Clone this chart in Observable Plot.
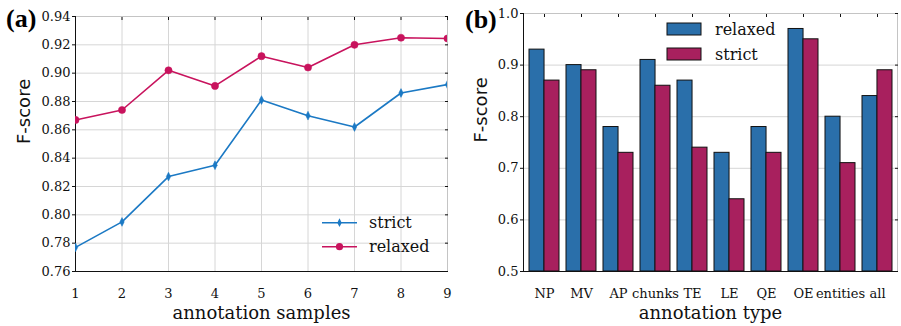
<!DOCTYPE html>
<html><head><meta charset="utf-8">
<script src="https://cdn.jsdelivr.net/npm/d3@7"></script>
<script src="https://cdn.jsdelivr.net/npm/@observablehq/plot@0.6"></script>
<style>
body{margin:0;background:#fff;}
#wrap{position:relative;width:901px;height:326px;overflow:hidden;}
#a,#b{position:absolute;top:0;}
#a{left:0px;} #b{left:460px;}
.panel{position:absolute;font-family:"Liberation Serif",serif;font-weight:bold;font-size:26px;line-height:1;color:#000;}
svg text{font-family:"DejaVu Serif",serif;}
svg text.sans{font-family:"DejaVu Sans",sans-serif;}
</style></head><body>
<div id="wrap"><div id="a"></div><div id="b"></div>
<div class="panel" style="left:6px;top:6px;">(a)</div>
<div class="panel" style="left:465px;top:7px;">(b)</div>
</div>
<script>
// ---- data ----
const samples = [1, 2, 3, 4, 5, 6, 7, 8, 9];
const strictScores = [0.777, 0.795, 0.827, 0.835, 0.881, 0.870, 0.862, 0.886, 0.892];
const relaxedScores = [0.867, 0.874, 0.902, 0.891, 0.912, 0.904, 0.920, 0.925, 0.9245];
const yTicksA = [0.76, 0.78, 0.80, 0.82, 0.84, 0.86, 0.88, 0.90, 0.92, 0.94];

const types = ["NP", "MV", "AP", "chunks", "TE", "LE", "QE", "OE", "entities", "all"];
const relaxedByType = [0.93, 0.90, 0.78, 0.91, 0.87, 0.73, 0.78, 0.97, 0.80, 0.84];
const strictByType = [0.87, 0.89, 0.73, 0.86, 0.74, 0.64, 0.73, 0.95, 0.71, 0.89];
const yTicksB = [0.5, 0.6, 0.7, 0.8, 0.9, 1.0];

// ---- style ----
const C_LINE_STRICT = "#1b79c4", C_LINE_RELAXED = "#c8135d";
const C_BAR_RELAXED = "#2a6faa", C_BAR_STRICT = "#a8205e";
const GRID = "#d6d6d6", FRAME = "#c4c4c4", INK = "#111";
const SERIF = "DejaVu Serif", SANS = "DejaVu Sans";

const thinDiamond = {
  draw(ctx, size) {
    const h = Math.sqrt(size / Math.PI) * 1.1, w = h * 0.5;
    ctx.moveTo(0, -h); ctx.lineTo(w, 0); ctx.lineTo(0, h); ctx.lineTo(-w, 0); ctx.closePath();
  }
};

const strictRows = samples.map((s, i) => ({s, v: strictScores[i]}));
const relaxedRows = samples.map((s, i) => ({s, v: relaxedScores[i]}));

const baseStyle = {fontFamily: SERIF, fontSize: "13px", color: INK, background: "transparent", overflow: "visible"};

const plotA = Plot.plot({
  width: 460, height: 326,
  marginLeft: 75, marginRight: 13, marginTop: 16, marginBottom: 55,
  style: baseStyle,
  x: {domain: [1, 9]},
  y: {domain: [0.76, 0.94]},
  marks: [
    Plot.gridX(samples, {stroke: GRID, strokeOpacity: 1}),
    Plot.gridY(yTicksA, {stroke: GRID, strokeOpacity: 1}),
    Plot.frame({stroke: FRAME}),
    Plot.axisX(samples, {tickSize: 0, tickPadding: 17, label: null, fontSize: 13, fontVariant: "normal"}),
    Plot.axisY(yTicksA, {tickSize: 3, tickPadding: 2, tickFormat: ".2f", label: null, fontSize: 13, fontVariant: "normal"}),
    Plot.axisX(samples, {anchor: "top", tickSize: -3, fill: "none", label: null}),
    Plot.axisY(yTicksA, {anchor: "right", tickSize: -3, fill: "none", label: null}),
    Plot.ruleX([samples[0]], {stroke: INK}),
    Plot.ruleY([yTicksA[0]], {stroke: INK}),
    Plot.line(strictRows, {x: "s", y: "v", stroke: C_LINE_STRICT, strokeWidth: 1.6, clip: true}),
    Plot.dot(strictRows, {x: "s", y: "v", r: 4, symbol: thinDiamond, fill: C_LINE_STRICT, stroke: C_LINE_STRICT, strokeWidth: 0.5, clip: true}),
    Plot.line(relaxedRows, {x: "s", y: "v", stroke: C_LINE_RELAXED, strokeWidth: 1.6, clip: true}),
    Plot.dot(relaxedRows, {x: "s", y: "v", r: 3.6, fill: C_LINE_RELAXED, stroke: C_LINE_RELAXED, strokeWidth: 0.5, clip: true}),
    Plot.text(["annotation samples"], {frameAnchor: "bottom", lineAnchor: "middle", dy: 42, fontSize: 18, fill: INK}),
    Plot.text(["F-score"], {frameAnchor: "left", lineAnchor: "middle", dx: -51, rotate: -90, fontSize: 18, fill: INK, className: "ylab"})
  ]
});
document.getElementById("a").appendChild(plotA);

const bw = (441 - 63 - 4) / 10 * 0.8;
const plotB = Plot.plot({
  width: 441, height: 326,
  marginLeft: 63, marginRight: 4, marginTop: 13, marginBottom: 55,
  style: baseStyle,
  x: {type: "band", domain: types, paddingInner: 0.2, paddingOuter: 0.1},
  y: {domain: [yTicksB[0], yTicksB[yTicksB.length - 1]]},
  marks: [
    Plot.gridY(yTicksB, {stroke: GRID, strokeOpacity: 1}),
    Plot.frame({stroke: FRAME}),
    Plot.axisX(types, {tickSize: 0, tickPadding: 17, label: null, fontSize: 13}),
    Plot.axisY(yTicksB, {tickSize: 3, tickPadding: 2, tickFormat: ".1f", label: null, fontSize: 13, fontVariant: "normal"}),
    Plot.axisX(types, {anchor: "top", tickSize: -3, fill: "none", label: null}),
    Plot.axisY(yTicksB, {anchor: "right", tickSize: -3, fill: "none", label: null}),
    Plot.barY(types, {x: d => d, y1: () => yTicksB[0], y2: (d, i) => relaxedByType[i], insetRight: bw / 2, fill: C_BAR_RELAXED, stroke: INK, strokeWidth: 1}),
    Plot.barY(types, {x: d => d, y1: () => yTicksB[0], y2: (d, i) => strictByType[i], insetLeft: bw / 2, fill: C_BAR_STRICT, stroke: INK, strokeWidth: 1}),
    Plot.ruleY([yTicksB[0]], {stroke: INK, strokeWidth: 1.2}),
    Plot.frame({anchor: "left", stroke: INK}),
    Plot.text(["annotation type"], {frameAnchor: "bottom", lineAnchor: "middle", dy: 42, fontSize: 18, fill: INK}),
    Plot.text(["F-score"], {frameAnchor: "left", lineAnchor: "middle", dx: -42, rotate: -90, fontSize: 18, fill: INK, className: "ylab"})
  ]
});
document.getElementById("b").appendChild(plotB);

// sans-serif y-axis titles
document.querySelectorAll("g.ylab text").forEach(t => t.classList.add("sans"));

// ---- legends ----
const svgA = d3.select(plotA);
const legA = svgA.append("g").style("font-size", "16px").attr("text-anchor", "start");
[["strict", C_LINE_STRICT, 222.7, "d"], ["relaxed", C_LINE_RELAXED, 246.7, "o"]].forEach(([lab, col, y, m]) => {
  legA.append("line").attr("x1", 322).attr("x2", 357).attr("y1", y).attr("y2", y).attr("stroke", col).attr("stroke-width", 1.6);
  if (m === "o") legA.append("circle").attr("cx", 339.5).attr("cy", y).attr("r", 3.6).attr("fill", col);
  else legA.append("path").attr("d", `M339.5,${y-4.4}L341.7,${y}L339.5,${y+4.4}L337.3,${y}Z`).attr("fill", col);
  legA.append("text").attr("x", 369).attr("y", y).attr("dy", "0.35em").attr("fill", INK).style("font-size", "16px").text(lab);
});
const svgB = d3.select(plotB);
const legB = svgB.append("g").style("font-size", "16px").attr("text-anchor", "start");
[["relaxed", C_BAR_RELAXED, 29], ["strict", C_BAR_STRICT, 54]].forEach(([lab, col, y]) => {
  legB.append("rect").attr("x", 207).attr("y", y - 6).attr("width", 34).attr("height", 12).attr("fill", col).attr("stroke", INK);
  legB.append("text").attr("x", 255).attr("y", y).attr("dy", "0.35em").attr("fill", INK).style("font-size", "16px").text(lab);
});
</script>
</body></html>
